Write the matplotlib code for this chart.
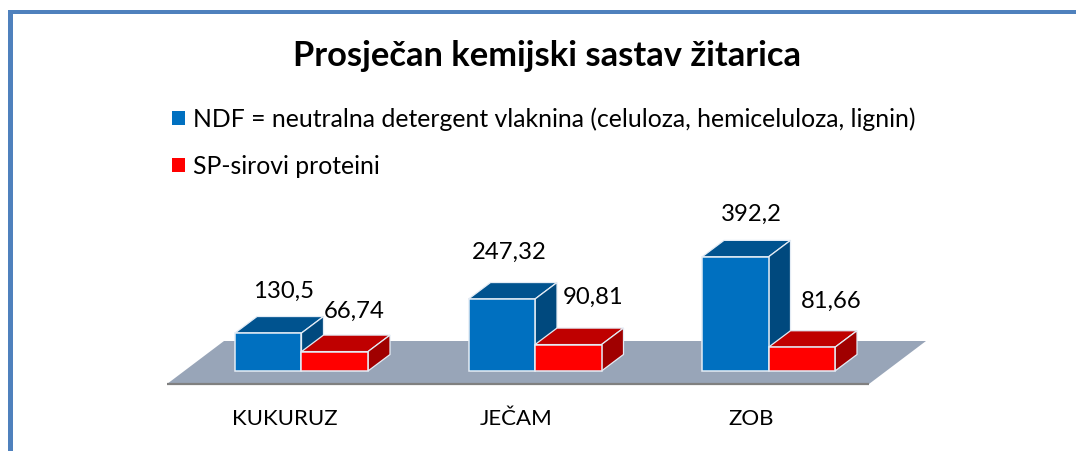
import matplotlib
matplotlib.use("Agg")
import matplotlib.pyplot as plt
from matplotlib.patches import Patch, Rectangle

categories = ["KUKURUZ", "JEČAM", "ZOB"]
ndf_values = [130.5, 247.32, 392.2]
sp_values = [66.74, 90.81, 81.66]
ndf_labels = ["130,5", "247,32", "392,2"]
sp_labels = ["66,74", "90,81", "81,66"]
title = "Prosječan kemijski sastav žitarica"
series_names = ["NDF = neutralna detergent vlaknina (celuloza, hemiceluloza, lignin)",
                "SP-sirovi proteini"]

FONT = "Lato"
plt.rcParams["font.family"] = [FONT, "DejaVu Sans"]
W, H = 1076, 451
PX_X = 233.5      # pixels per category
PX_Y = 0.291      # pixels per value unit
X0, Y0 = 301.5, 371 # pixel of category 0 / value 0
BW = 66.5 / PX_X
DX, DY = 22 / PX_X, 16.5 / PX_Y

fig = plt.figure(figsize=(W / 100, H / 100), dpi=100, facecolor="white")
ax = fig.add_axes([0, 0, 1, 1])
ax.set_xlim(-X0 / PX_X, (W - X0) / PX_X)
ax.set_ylim(-(H - Y0) / PX_Y, Y0 / PX_Y)
ax.axis("off")

# frame
fig.add_artist(Rectangle((0.0075, 0), 0.0048, 1 - 10 / H, transform=fig.transFigure, color="#4F81BD", lw=0))
fig.add_artist(Rectangle((0.0075, 1 - 14 / H), 1, 4 / H, transform=fig.transFigure, color="#4F81BD", lw=0))

# floor
fx0, fx1 = (167 - X0) / PX_X, (869 - X0) / PX_X
fy0 = -13 / PX_Y
fdx, fdy = 57 / PX_X, 43 / PX_Y
ax.fill([fx0, fx1, fx1 + fdx, fx0 + fdx], [fy0, fy0, fy0 + fdy, fy0 + fdy],
        facecolor="#98A5B8", edgecolor="none", zorder=1)
ax.plot([fx0, fx1], [fy0, fy0], color="#808080", lw=1.6, zorder=1, solid_capstyle="butt")

EDGE = "#E4ECF5"


def box(x, v, front, top, side, z):
    ax.bar(x, v, BW, align="edge", color=front, edgecolor=EDGE, linewidth=1.1, zorder=z + 0.2)
    ax.fill([x, x + BW, x + BW + DX, x + DX], [v, v, v + DY, v + DY],
            facecolor=top, edgecolor=EDGE, linewidth=0.9, zorder=z)
    ax.fill([x + BW, x + BW + DX, x + BW + DX, x + BW], [0, DY, v + DY, v],
            facecolor=side, edgecolor=EDGE, linewidth=0.9, zorder=z)


ndf_off = [(15.5, 42), (8, 47), (16, 43)]
sp_off = [(19.5, 40), (24.5, 47), (29.5, 46)]
cat_px = [285, 516, 751]
for i, cat in enumerate(categories):
    box(i - BW, ndf_values[i], "#0070C0", "#00538F", "#00497E", 2)
    box(i, sp_values[i], "#FF0000", "#BF0000", "#A00000", 3)
    ax.annotate(ndf_labels[i], (i - BW / 2, ndf_values[i]), xytext=ndf_off[i], textcoords="offset pixels",
                ha="center", va="center", fontsize=17.2, color="black", zorder=6)
    ax.annotate(sp_labels[i], (i + BW / 2, sp_values[i]), xytext=sp_off[i], textcoords="offset pixels",
                ha="center", va="center", fontsize=17.2, color="black", zorder=6)
    ax.text((cat_px[i] - X0) / PX_X, -(419 - Y0) / PX_Y, cat, ha="center", va="center",
            fontsize=16, color="black")

fig.text(547 / W, 1 - 56 / H, title, ha="center", va="center", fontsize=24.8, fontweight="bold", color="black")

handles = [Patch(facecolor="#0070C0", edgecolor="none"), Patch(facecolor="#FF0000", edgecolor="none")]
FS = 17.85
leg = ax.legend(handles, series_names, loc="upper left", bbox_to_anchor=(172 / W, 1 - 107 / H),
                bbox_transform=fig.transFigure, frameon=False, fontsize=FS, borderpad=0, borderaxespad=0,
                handlelength=0.524, handleheight=0.524, handletextpad=0.32, labelspacing=0.98)
fig.savefig("out.png", dpi=100)
